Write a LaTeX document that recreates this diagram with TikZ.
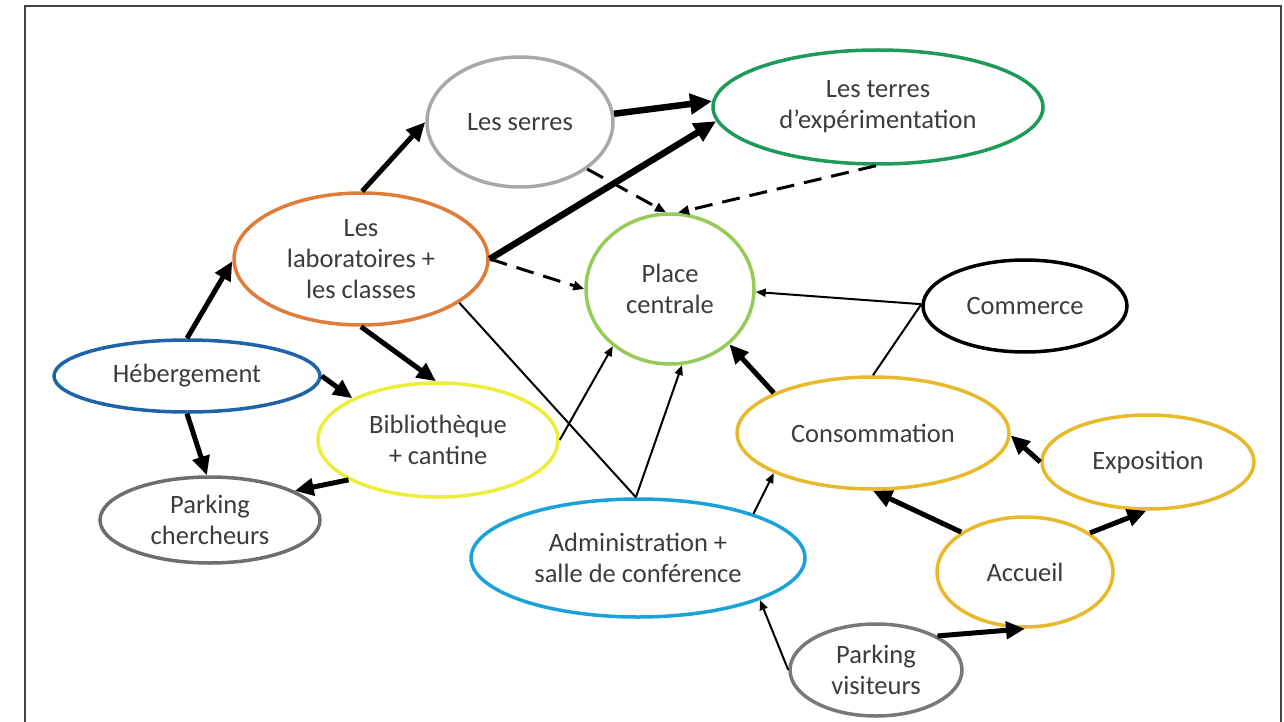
\documentclass[tikz,border=0pt]{standalone}
\usepackage{fontspec}
\setmainfont{Carlito}
\usetikzlibrary{shapes.geometric,arrows.meta}
\definecolor{txt}{HTML}{3C3C3C}
\definecolor{cserres}{HTML}{A8A8A8}
\definecolor{cterres}{HTML}{1E9A5A}
\definecolor{clabs}{HTML}{E07B39}
\definecolor{cplace}{HTML}{96CB5A}
\definecolor{cheb}{HTML}{1F64A8}
\definecolor{cbib}{HTML}{ECEE3A}
\definecolor{cgold}{HTML}{E8B92A}
\definecolor{cparkc}{HTML}{6E6E6E}
\definecolor{cadmin}{HTML}{1AA3DB}
\definecolor{cparkv}{HTML}{787878}
\definecolor{frame}{HTML}{444444}
\tikzset{
  bubble/.style={ellipse, draw, line width=3.5pt, inner sep=0pt, align=center,
    text=txt, font=\fontsize{26.5}{31}\selectfont},
  heavy/.style={line width=5pt, -{Triangle[length=19pt,width=17pt]}},
  xheavy/.style={line width=6.5pt, -{Triangle[length=22pt,width=20pt]}},
  light/.style={line width=2pt, -{Triangle[length=10pt,width=8pt]}},
  plain/.style={line width=2pt},
  dashedarrow/.style={line width=3pt, dash pattern=on 18pt off 10pt, -{Triangle[length=11pt,width=9pt]}},
}
\begin{document}
\begin{tikzpicture}[x=1pt,y=-1pt]
\useasboundingbox (0,0) rectangle (1284,722);
\fill[white] (0,0) rectangle (1284,722);
\draw[frame, line width=2pt] (25,730) -- (25,6) -- (1281,6) -- (1281,730);

\node[bubble, draw=cserres, minimum width=186pt, minimum height=130pt] (serres) at (520,122) {Les serres};
\node[bubble, draw=cterres, minimum width=330pt, minimum height=114pt] (terres) at (878,107) {Les terres\\d’expérimentation};
\node[bubble, draw=clabs, minimum width=254pt, minimum height=132pt] (labs) at (361,259) {Les\\laboratoires +\\les classes};
\node[bubble, draw=cplace, minimum width=168pt, minimum height=150pt] (place) at (670,289) {Place\\centrale};
\node[bubble, draw=black, minimum width=204pt, minimum height=92pt] (commerce) at (1025,306) {Commerce};
\node[bubble, draw=cheb, minimum width=266pt, minimum height=72pt] (heb) at (187,376) {Hébergement};
\node[bubble, draw=cbib, minimum width=240pt, minimum height=114pt] (biblio) at (438,440) {Bibliothèque\\+ cantine};
\node[bubble, draw=cparkc, minimum width=220pt, minimum height=86pt] (parkc) at (210,520) {Parking\\chercheurs};
\node[bubble, draw=cadmin, minimum width=334pt, minimum height=118pt] (admin) at (638,558) {Administration +\\salle de conférence};
\node[bubble, draw=cgold, minimum width=272pt, minimum height=112pt] (conso) at (873,433) {Consommation};
\node[bubble, draw=cgold, minimum width=212pt, minimum height=94pt] (expo) at (1148,462) {Exposition};
\node[bubble, draw=cgold, minimum width=176pt, minimum height=110pt] (accueil) at (1025,572) {Accueil};
\node[bubble, draw=cparkv, minimum width=172pt, minimum height=92pt] (parkv) at (876,670) {Parking\\visiteurs};

% heavy arrows
\draw[heavy] (heb.90) -- (labs.181);
\draw[heavy] (heb.0) -- (biblio.154);
\draw[heavy] (heb.270) -- (parkc.94);
\draw[heavy] (labs.89) -- (serres.180);
\draw[heavy] (labs.270) -- (biblio.92);
\draw[xheavy] (labs.0) -- (terres.185);
\draw[xheavy] (serres.5) -- (terres.178);
\draw[heavy] (biblio.204) -- (parkc.19);
\draw[heavy] (conso.158) -- (place.317);
\draw[heavy] (accueil.148) -- (conso.270);
\draw[heavy] (expo.180) -- (conso.359);
\draw[heavy] (accueil.31) -- (expo.268);
\draw[heavy] (parkv.29) -- (accueil.270);

% dashed arrows
\draw[dashedarrow] (labs.0) -- (place.180);
\draw[dashedarrow] (serres.325) -- (place.93);
\draw[dashedarrow] (terres.268) -- (place.84);

% thin connectors
\draw[plain] (labs.336) -- (admin.92);
\draw[light] (admin.92) -- (place.279);
\draw[light] (biblio.0) -- (place.225);
\draw[light] (commerce.179) -- (place.358);
\draw[plain] (commerce.179) -- (conso.90);
\draw[light] (admin.21) -- (conso.202);
\draw[light] (parkv.180) -- (admin.341);
\end{tikzpicture}
\end{document}
